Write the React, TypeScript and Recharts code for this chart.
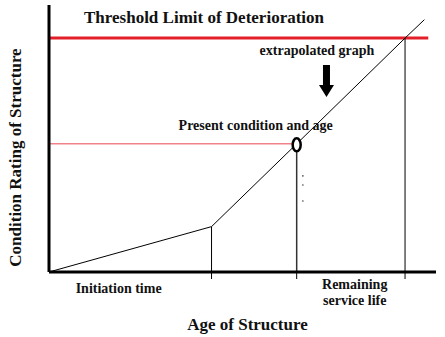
import { FC } from "react";
import { ComposedChart, Line, ReferenceDot, ReferenceLine, XAxis, YAxis } from "recharts";

// age (x) and condition rating (y), both on a 0..100 scale
const ages = [0, 42, 64, 92, 97];
const ratings = [0, 17, 48, 87.6, 94.5];

const thresholdRating = 87.6;
const thresholdEndAge = 98;
const initiationAge = 42;
const initiationRating = 17;
const presentAge = 64;
const presentRating = 48;
const serviceEndAge = 92;

const dotAge = 65.6;
const dotRatings = [36, 32.6, 26.6];

const arrowAge = 71.7;
const arrowRating = 65.5;

const periodLabels = ["Initiation time", "Remaining\nservice life"];
const periodLabelAges = [18, 79];

const serif = '"Liberation Serif", "Times New Roman", serif';
const ink = "#111";

const data = ages.map((age, i) => ({ age, rating: ratings[i] }));

const PeriodText = (p: any) => {
  const lines = String(p.text).split("\n");
  const top = lines.length > 1 ? p.cy + 17 : p.cy + 21;
  return (
    <text x={p.cx} y={top} textAnchor="middle" fontFamily={serif} fontWeight="bold" fontSize={14} fill={ink}>
      {lines.map((l, i) => (
        <tspan key={i} x={p.cx} dy={i === 0 ? 0 : 16}>
          {l}
        </tspan>
      ))}
    </text>
  );
};

const YTitle = (props: any) => {
  const { viewBox } = props;
  const x = viewBox.x + 21;
  const y = viewBox.y + viewBox.height / 2 + 19;
  return (
    <text x={x} y={y} transform={`rotate(-90 ${x} ${y})`} textAnchor="middle" fontFamily={serif} fontWeight="bold" fontSize={17} fill={ink}>
      Condition Rating of Structure
    </text>
  );
};

const XTitle = (props: any) => {
  const { viewBox } = props;
  return (
    <text x={viewBox.x + viewBox.width / 2 + 5} y={viewBox.y + 58} textAnchor="middle" fontFamily={serif} fontWeight="bold" fontSize={17} fill={ink}>
      Age of Structure
    </text>
  );
};

const ThresholdText = (p: any) => (
  <text x={p.cx + 35} y={p.cy - 15} fontFamily={serif} fontWeight="bold" fontSize={17} fill={ink}>
    Threshold Limit of Deterioration
  </text>
);

const PresentMark = (p: any) => (
  <g>
    <ellipse cx={p.cx} cy={p.cy + 1} rx={4} ry={6.5} fill="#fff" stroke="#000" strokeWidth={2.5} />
    <text x={p.cx - 41} y={p.cy - 14} textAnchor="middle" fontFamily={serif} fontWeight="bold" fontSize={14} fill={ink}>
      Present condition and age
    </text>
  </g>
);

const Arrow = (p: any) => {
  const { cx, cy } = p;
  const pts = [
    [cx - 3.5, cy - 32],
    [cx + 3.5, cy - 32],
    [cx + 3.5, cy - 12],
    [cx + 7.5, cy - 12],
    [cx, cy],
    [cx - 7.5, cy - 12],
    [cx - 3.5, cy - 12],
  ]
    .map((q) => q.join(","))
    .join(" ");
  return (
    <g>
      <polygon points={pts} fill="#000" />
      <text x={cx - 9.5} y={cy - 42} textAnchor="middle" fontFamily={serif} fontWeight="bold" fontSize={14} fill={ink}>
        extrapolated graph
      </text>
    </g>
  );
};

const SmallDot = (p: any) => <circle cx={p.cx} cy={p.cy} r={0.8} fill="#444" />;

const NoTick = () => <g />;

const App: FC = () => {
  return (
    <div style={{ position: "absolute", left: 0, top: 0, background: "#fff" }}>
      <ComposedChart width={445} height={337} data={data} margin={{ top: 5, right: 9, left: 0, bottom: 0 }}>
        <XAxis
          dataKey="age"
          type="number"
          domain={[0, 100]}
          ticks={[initiationAge, presentAge, serviceEndAge]}
          tick={<NoTick />}
          tickSize={7}
          height={65}
          axisLine={{ stroke: "#000", strokeWidth: 3 }}
          tickLine={{ stroke: "#000", strokeWidth: 1 }}
          label={<XTitle />}
        />
        <YAxis
          type="number"
          domain={[0, 100]}
          width={49}
          tick={false}
          tickLine={false}
          axisLine={{ stroke: "#000", strokeWidth: 3 }}
          label={<YTitle />}
        />
        <ReferenceLine
          segment={[
            { x: 0, y: thresholdRating },
            { x: thresholdEndAge, y: thresholdRating },
          ]}
          stroke="#e3202a"
          strokeWidth={3}
        />
        <ReferenceLine
          segment={[
            { x: 0, y: presentRating },
            { x: presentAge, y: presentRating },
          ]}
          stroke="#e8474c"
          strokeWidth={1}
        />
        <ReferenceLine
          segment={[
            { x: initiationAge, y: 0 },
            { x: initiationAge, y: initiationRating },
          ]}
          stroke="#000"
          strokeWidth={1}
        />
        <ReferenceLine
          segment={[
            { x: presentAge, y: 0 },
            { x: presentAge, y: presentRating },
          ]}
          stroke="#333"
          strokeWidth={1.5}
        />
        <ReferenceLine
          segment={[
            { x: serviceEndAge, y: 0 },
            { x: serviceEndAge, y: thresholdRating },
          ]}
          stroke="#000"
          strokeWidth={1}
        />
        <Line dataKey="rating" stroke="#000" strokeWidth={1} dot={false} isAnimationActive={false} />
        {dotRatings.map((r, i) => (
          <ReferenceDot key={i} x={dotAge} y={r} shape={<SmallDot />} />
        ))}
        {periodLabelAges.map((a, i) => (
          <ReferenceDot key={`p${i}`} x={a} y={0} shape={<PeriodText text={periodLabels[i]} />} />
        ))}
        <ReferenceDot x={0} y={thresholdRating} shape={<ThresholdText />} />
        <ReferenceDot x={presentAge} y={presentRating} shape={<PresentMark />} />
        <ReferenceDot x={arrowAge} y={arrowRating} shape={<Arrow />} />
      </ComposedChart>
    </div>
  );
};

export default App;
